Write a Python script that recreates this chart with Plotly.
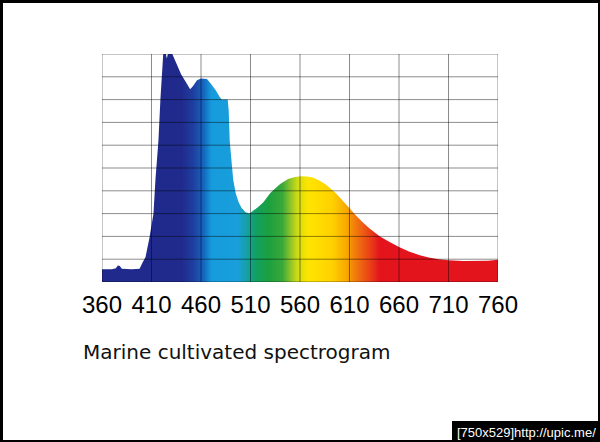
import plotly.graph_objects as go

# ---- data ----
WAVELENGTH = [360, 370, 374, 376, 378, 380, 390, 398, 401, 404, 408, 412, 414, 417, 419,
              421, 422, 424, 425.5, 427, 430, 432, 436, 440, 445, 449, 452, 456, 460,
              466, 470, 475, 479, 481, 487, 488, 489, 491, 492.5, 495, 498, 501, 505,
              509, 513, 518, 523, 530, 536, 540, 548, 555, 561, 567, 573, 580, 586,
              590, 595, 600, 605, 610, 617, 623, 630, 640, 650, 660, 670, 681, 690,
              700, 710, 725, 738, 750, 760]
INTENSITY = [0.56, 0.56, 0.6, 0.72, 0.7, 0.58, 0.56, 0.58, 0.85, 1.1, 1.95, 3.0, 4.5, 6.2, 8.0,
             9.9, 10.1, 10.1, 9.8, 10.1, 10.1, 9.9, 9.5, 9.1, 8.75, 8.45, 8.6, 8.85, 8.92,
             8.9, 8.7, 8.4, 8.1, 8.0, 8.0, 7.5, 6.2, 5.2, 4.5, 3.9, 3.5, 3.25, 3.06,
             3.0, 3.12, 3.3, 3.5, 3.9, 4.15, 4.3, 4.52, 4.61, 4.64, 4.63, 4.58, 4.44, 4.28,
             4.15, 3.95, 3.72, 3.47, 3.22, 2.9, 2.63, 2.36, 2.02, 1.76, 1.54, 1.34, 1.17, 1.07,
             1.0, 0.95, 0.92, 0.91, 0.93, 0.98]

TICKS = [360, 410, 460, 510, 560, 610, 660, 710, 760]
Y_LINES = [0, 1, 2, 3, 4, 5, 6, 7, 8, 9, 10]

GRAD_NM = [360, 440, 452, 462, 470, 496, 506, 516, 528, 542, 550, 557, 568, 592,
           606, 620, 632, 640, 760]
GRAD_COLORS = ["#1f2a8c", "#1f2a8c", "#1f3fa0", "#1565bf", "#169bdc", "#1a9fdc",
               "#14a0a0", "#12a060", "#1ba040", "#3aa83a", "#8cc42a", "#cfdc14",
               "#ffe500", "#ffd000", "#f7a800", "#ef6a10", "#e83a18", "#e3141c", "#e3141c"]

TITLE = "Marine cultivated spectrogram"
WATERMARK = "[750x529]http://upic.me/"

# ---- figure ----
L, R, T, B = 102, 102, 54, 160
W, H = 600, 442
PW, PH = W - L - R, H - T - B


def px(x):
    return (x - L) / PW


def py(y):
    return (H - B - y) / PH


lo, hi = TICKS[0], TICKS[-1]
grad_x = list(range(lo, hi + 1, 2))
colorscale = [[(n - lo) / (hi - lo), c] for n, c in zip(GRAD_NM, GRAD_COLORS)]

fig = go.Figure()
fig.add_trace(go.Heatmap(
    x=grad_x, y=[Y_LINES[0], Y_LINES[-1]], z=[grad_x, grad_x],
    colorscale=colorscale, zmin=lo, zmax=hi, zsmooth="best",
    showscale=False, hoverinfo="skip"))
# white mask above the spectrum curve
fig.add_trace(go.Scatter(
    x=WAVELENGTH + [hi, lo], y=INTENSITY + [12, 12],
    fill="toself", fillcolor="white", mode="lines",
    line=dict(width=0, color="white"), hoverinfo="skip", showlegend=False))

shapes = [dict(type="rect", xref="paper", yref="paper",
               x0=px(3), x1=px(598), y0=py(440), y1=py(3),
               fillcolor="white", line=dict(width=0), layer="below")]
gcol = "rgba(0,0,0,0.45)"
for t in TICKS:
    shapes.append(dict(type="line", xref="x", yref="y", x0=t, x1=t,
                       y0=Y_LINES[0], y1=Y_LINES[-1], layer="above",
                       line=dict(color=gcol, width=1)))
for h in Y_LINES:
    shapes.append(dict(type="line", xref="x", yref="y", x0=lo, x1=hi,
                       y0=h, y1=h, layer="above",
                       line=dict(color=gcol, width=1)))
shapes.append(dict(type="rect", xref="paper", yref="paper",
                   x0=px(452), x1=px(601), y0=py(443), y1=py(421),
                   fillcolor="black", line=dict(width=0), layer="above"))

fig.update_layout(
    width=W, height=H,
    margin=dict(l=L, r=R, t=T, b=B, pad=0),
    paper_bgcolor="black", plot_bgcolor="white",
    showlegend=False,
    shapes=shapes,
    xaxis=dict(range=[lo, hi], tickvals=TICKS, ticktext=[str(t) for t in TICKS],
               showgrid=False, zeroline=False, showline=False, ticks="",
               ticklabelstandoff=6,
               tickfont=dict(family="Liberation Sans, Arial", size=24, color="black")),
    yaxis=dict(range=[Y_LINES[0], Y_LINES[-1]], showticklabels=False,
               showgrid=False, zeroline=False, showline=False, ticks=""),
    annotations=[
        dict(text=TITLE, xref="paper", yref="paper", x=px(81), y=py(352),
             xanchor="left", yanchor="middle", showarrow=False,
             font=dict(family="DejaVu Sans", size=20, color="#111111")),
        dict(text=WATERMARK, xref="paper", yref="paper", x=px(526), y=py(432),
             xanchor="center", yanchor="middle", showarrow=False,
             font=dict(family="Liberation Sans, Arial", size=13, color="white")),
    ],
)

fig.write_html("out.html", config={"displayModeBar": False},
               post_script=["document.body.style.margin='0px';"])
